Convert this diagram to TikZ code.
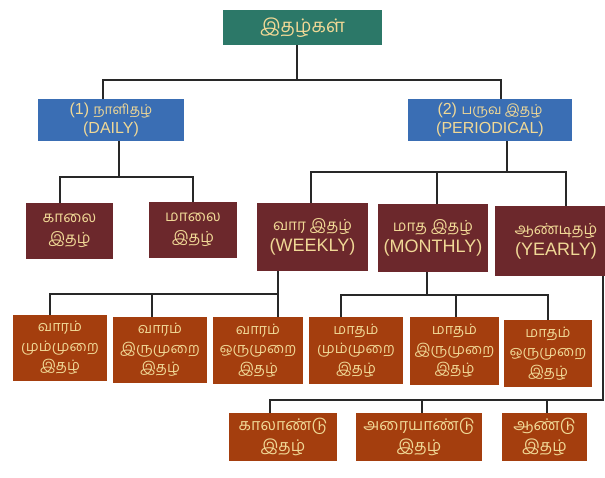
\documentclass[tikz,border=0pt]{standalone}
\usepackage{fontspec}
\setmainfont{Liberation Sans}
\newfontfamily\tam[Script=Tamil, Scale=0.85]{Hind Madurai}
\usepackage{tikz}

\definecolor{teal1}{RGB}{44,120,104}
\definecolor{blue1}{RGB}{58,110,180}
\definecolor{maroon1}{RGB}{108,40,44}
\definecolor{rust1}{RGB}{164,62,14}
\definecolor{gold1}{RGB}{240,216,150}
\definecolor{line1}{RGB}{40,40,40}

\begin{document}
\begin{tikzpicture}[x = 1pt, y = -1pt, line width = 2, line cap = rect, color = line1]
	\tikzstyle{every node} = [inner sep = 0, align = center, text = gold1]
	\tikzstyle{rootbox} = [fill = teal1, font = \fontsize{22}{24}\selectfont\tam]
	\tikzstyle{kindbox} = [fill = blue1, font = \fontsize{16}{19}\selectfont]
	\tikzstyle{freqbox} = [fill = maroon1, font = \fontsize{18}{21}\selectfont]
	\tikzstyle{issuebox} = [fill = rust1, font = \fontsize{17}{19.5}\selectfont\tam]
	\tikzstyle{yearbox} = [fill = rust1, font = \fontsize{19}{21}\selectfont\tam]
\useasboundingbox (0, 0) rectangle (605, 477);
\node[rootbox, minimum width = 159, minimum height = 35] (0) at (302.5, 27.5) {இதழ்கள்};
\node[kindbox, minimum width = 146, minimum height = 42] (1) at (111, 120) {(1) {\tam நாளிதழ்}\\(DAILY)};
\node[kindbox, minimum width = 164, minimum height = 42] (2) at (490, 120) {(2) {\tam பருவ இதழ்}\\(PERIODICAL)};
\node[freqbox, minimum width = 87, minimum height = 56] (3) at (69.5, 231) {\tam காலை\\\tam இதழ்};
\node[freqbox, minimum width = 88, minimum height = 56] (4) at (193, 230) {\tam மாலை\\\tam இதழ்};
\node[freqbox, minimum width = 111, minimum height = 68] (5) at (312.5, 237) {{\tam வார இதழ்}\\(WEEKLY)};
\node[freqbox, minimum width = 110, minimum height = 68] (6) at (433, 238) {{\tam மாத இதழ்}\\(MONTHLY)};
\node[freqbox, minimum width = 122, minimum height = 70] (7) at (556, 241) {{\tam ஆண்டிதழ்}\\(YEARLY)};
\node[issuebox, minimum width = 94, minimum height = 66] (8) at (60, 348) {வாரம்\\மும்முறை\\இதழ்};
\node[issuebox, minimum width = 94, minimum height = 66] (9) at (160, 350) {வாரம்\\இருமுறை\\இதழ்};
\node[issuebox, minimum width = 90, minimum height = 67] (10) at (258, 350.5) {வாரம்\\ஒருமுறை\\இதழ்};
\node[issuebox, minimum width = 94, minimum height = 67] (11) at (356, 350.5) {மாதம்\\மும்முறை\\இதழ்};
\node[issuebox, minimum width = 89, minimum height = 68] (12) at (454.5, 351) {மாதம்\\இருமுறை\\இதழ்};
\node[issuebox, minimum width = 88, minimum height = 67] (13) at (548, 353.5) {மாதம்\\ஒருமுறை\\இதழ்};
\node[yearbox, minimum width = 108, minimum height = 48] (14) at (283, 437) {காலாண்டு\\இதழ்};
\node[yearbox, minimum width = 126, minimum height = 48] (15) at (419, 437) {அரையாண்டு\\இதழ்};
\node[yearbox, minimum width = 85, minimum height = 48] (16) at (544.5, 437) {ஆண்டு\\இதழ்};

	% bus points
	\coordinate (a0) at (297, 80);
	\coordinate (a1) at (103, 80);
	\coordinate (a2) at (501, 80);
	\coordinate (b0) at (119, 177);
	\coordinate (b3) at (60, 177);
	\coordinate (b4) at (193, 177);
	\coordinate (c0) at (507, 172);
	\coordinate (c5) at (311, 172);
	\coordinate (c6) at (437, 172);
	\coordinate (c7) at (566, 172);
	\coordinate (d0) at (278, 294);
	\coordinate (d8) at (50, 294);
	\coordinate (d9) at (152, 294);
	\coordinate (e0) at (427, 295);
	\coordinate (e11) at (341, 295);
	\coordinate (e12) at (456, 295);
	\coordinate (e13) at (548, 295);
	\coordinate (f0) at (603, 400);
	\coordinate (f14) at (270, 400);
	\coordinate (f15) at (422, 400);
	\coordinate (f16) at (547, 400);

	\path[draw] (0.south -| a0) -- (a0);
	\path[draw] (a1) -- (a2);
	\path[draw] (a1) -- (1.north -| a1);
	\path[draw] (a2) -- (2.north -| a2);

	\path[draw] (1.south -| b0) -- (b0);
	\path[draw] (b3) -- (b4);
	\path[draw] (b3) -- (3.north -| b3);
	\path[draw] (b4) -- (4.north -| b4);

	\path[draw] (2.south -| c0) -- (c0);
	\path[draw] (c5) -- (c7);
	\path[draw] (c5) -- (5.north -| c5);
	\path[draw] (c6) -- (6.north -| c6);
	\path[draw] (c7) -- (7.north -| c7);

	\path[draw] (5.south -| d0) -- (d0);
	\path[draw] (d8) -- (d0);
	\path[draw] (d8) -- (8.north -| d8);
	\path[draw] (d9) -- (9.north -| d9);
	\path[draw] (d0) -- (10.north -| d0);

	\path[draw] (6.south -| e0) -- (e0);
	\path[draw] (e11) -- (e13);
	\path[draw] (e11) -- (11.north -| e11);
	\path[draw] (e12) -- (12.north -| e12);
	\path[draw] (e13) -- (13.north -| e13);

	\path[draw] (7.south -| f0) -- (f0);
	\path[draw] (f14) -- (f0);
	\path[draw] (f14) -- (14.north -| f14);
	\path[draw] (f15) -- (15.north -| f15);
	\path[draw] (f16) -- (16.north -| f16);
\end{tikzpicture}
\end{document}
